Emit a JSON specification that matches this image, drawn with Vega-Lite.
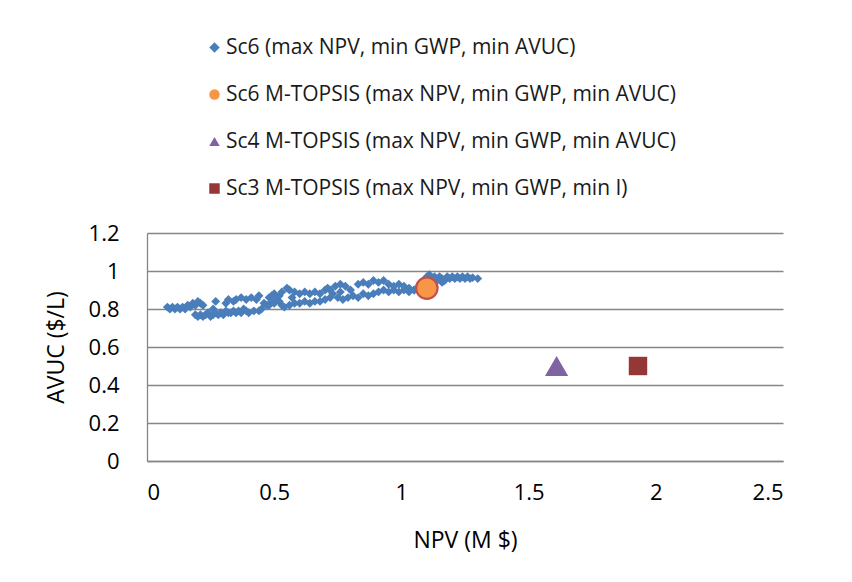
{
  "$schema": "https://vega.github.io/schema/vega-lite/v6.json",
  "width": 636,
  "height": 228,
  "autosize": {"type": "none"},
  "padding": {"left": 147, "top": 233, "right": 69, "bottom": 121},
  "background": "white",
  "config": {
    "font": "Open Sans",
    "view": {"stroke": null},
    "axis": {
      "labelFont": "Open Sans", "titleFont": "Open Sans", "labelFontSize": 22, "titleFontSize": 23,
      "labelColor": "#000000", "titleColor": "#000000", "titleFontWeight": "normal",
      "gridColor": "#868686", "gridWidth": 1.3, "domainColor": "#868686", "domainWidth": 1.3,
      "ticks": false, "labelOverlap": false
    },
    "legend": {"labelFont": "Open Sans", "labelFontSize": 21, "labelColor": "#1a1a1a", "labelLimit": 0}
  },
  "datasets": {
    "pts": [
      {"npv": 0.08, "avuc": 0.81, "series": "Sc6 (max NPV, min GWP, min AVUC)"},
      {"npv": 0.09, "avuc": 0.80, "series": "Sc6 (max NPV, min GWP, min AVUC)"},
      {"npv": 0.10, "avuc": 0.81, "series": "Sc6 (max NPV, min GWP, min AVUC)"},
      {"npv": 0.11, "avuc": 0.80, "series": "Sc6 (max NPV, min GWP, min AVUC)"},
      {"npv": 0.12, "avuc": 0.81, "series": "Sc6 (max NPV, min GWP, min AVUC)"},
      {"npv": 0.13, "avuc": 0.80, "series": "Sc6 (max NPV, min GWP, min AVUC)"},
      {"npv": 0.14, "avuc": 0.81, "series": "Sc6 (max NPV, min GWP, min AVUC)"},
      {"npv": 0.15, "avuc": 0.80, "series": "Sc6 (max NPV, min GWP, min AVUC)"},
      {"npv": 0.16, "avuc": 0.82, "series": "Sc6 (max NPV, min GWP, min AVUC)"},
      {"npv": 0.17, "avuc": 0.81, "series": "Sc6 (max NPV, min GWP, min AVUC)"},
      {"npv": 0.18, "avuc": 0.83, "series": "Sc6 (max NPV, min GWP, min AVUC)"},
      {"npv": 0.19, "avuc": 0.82, "series": "Sc6 (max NPV, min GWP, min AVUC)"},
      {"npv": 0.20, "avuc": 0.84, "series": "Sc6 (max NPV, min GWP, min AVUC)"},
      {"npv": 0.21, "avuc": 0.83, "series": "Sc6 (max NPV, min GWP, min AVUC)"},
      {"npv": 0.22, "avuc": 0.82, "series": "Sc6 (max NPV, min GWP, min AVUC)"},
      {"npv": 0.27, "avuc": 0.84, "series": "Sc6 (max NPV, min GWP, min AVUC)"},
      {"npv": 0.31, "avuc": 0.83, "series": "Sc6 (max NPV, min GWP, min AVUC)"},
      {"npv": 0.32, "avuc": 0.85, "series": "Sc6 (max NPV, min GWP, min AVUC)"},
      {"npv": 0.34, "avuc": 0.84, "series": "Sc6 (max NPV, min GWP, min AVUC)"},
      {"npv": 0.35, "avuc": 0.85, "series": "Sc6 (max NPV, min GWP, min AVUC)"},
      {"npv": 0.37, "avuc": 0.86, "series": "Sc6 (max NPV, min GWP, min AVUC)"},
      {"npv": 0.39, "avuc": 0.85, "series": "Sc6 (max NPV, min GWP, min AVUC)"},
      {"npv": 0.41, "avuc": 0.86, "series": "Sc6 (max NPV, min GWP, min AVUC)"},
      {"npv": 0.43, "avuc": 0.85, "series": "Sc6 (max NPV, min GWP, min AVUC)"},
      {"npv": 0.44, "avuc": 0.87, "series": "Sc6 (max NPV, min GWP, min AVUC)"},
      {"npv": 0.48, "avuc": 0.86, "series": "Sc6 (max NPV, min GWP, min AVUC)"},
      {"npv": 0.49, "avuc": 0.87, "series": "Sc6 (max NPV, min GWP, min AVUC)"},
      {"npv": 0.50, "avuc": 0.88, "series": "Sc6 (max NPV, min GWP, min AVUC)"},
      {"npv": 0.52, "avuc": 0.87, "series": "Sc6 (max NPV, min GWP, min AVUC)"},
      {"npv": 0.53, "avuc": 0.89, "series": "Sc6 (max NPV, min GWP, min AVUC)"},
      {"npv": 0.55, "avuc": 0.91, "series": "Sc6 (max NPV, min GWP, min AVUC)"},
      {"npv": 0.56, "avuc": 0.90, "series": "Sc6 (max NPV, min GWP, min AVUC)"},
      {"npv": 0.58, "avuc": 0.89, "series": "Sc6 (max NPV, min GWP, min AVUC)"},
      {"npv": 0.60, "avuc": 0.88, "series": "Sc6 (max NPV, min GWP, min AVUC)"},
      {"npv": 0.62, "avuc": 0.89, "series": "Sc6 (max NPV, min GWP, min AVUC)"},
      {"npv": 0.64, "avuc": 0.88, "series": "Sc6 (max NPV, min GWP, min AVUC)"},
      {"npv": 0.66, "avuc": 0.89, "series": "Sc6 (max NPV, min GWP, min AVUC)"},
      {"npv": 0.68, "avuc": 0.88, "series": "Sc6 (max NPV, min GWP, min AVUC)"},
      {"npv": 0.70, "avuc": 0.90, "series": "Sc6 (max NPV, min GWP, min AVUC)"},
      {"npv": 0.71, "avuc": 0.91, "series": "Sc6 (max NPV, min GWP, min AVUC)"},
      {"npv": 0.72, "avuc": 0.90, "series": "Sc6 (max NPV, min GWP, min AVUC)"},
      {"npv": 0.74, "avuc": 0.92, "series": "Sc6 (max NPV, min GWP, min AVUC)"},
      {"npv": 0.76, "avuc": 0.93, "series": "Sc6 (max NPV, min GWP, min AVUC)"},
      {"npv": 0.78, "avuc": 0.92, "series": "Sc6 (max NPV, min GWP, min AVUC)"},
      {"npv": 0.80, "avuc": 0.90, "series": "Sc6 (max NPV, min GWP, min AVUC)"},
      {"npv": 0.83, "avuc": 0.93, "series": "Sc6 (max NPV, min GWP, min AVUC)"},
      {"npv": 0.85, "avuc": 0.94, "series": "Sc6 (max NPV, min GWP, min AVUC)"},
      {"npv": 0.87, "avuc": 0.93, "series": "Sc6 (max NPV, min GWP, min AVUC)"},
      {"npv": 0.89, "avuc": 0.95, "series": "Sc6 (max NPV, min GWP, min AVUC)"},
      {"npv": 0.91, "avuc": 0.94, "series": "Sc6 (max NPV, min GWP, min AVUC)"},
      {"npv": 0.93, "avuc": 0.95, "series": "Sc6 (max NPV, min GWP, min AVUC)"},
      {"npv": 0.95, "avuc": 0.93, "series": "Sc6 (max NPV, min GWP, min AVUC)"},
      {"npv": 0.97, "avuc": 0.92, "series": "Sc6 (max NPV, min GWP, min AVUC)"},
      {"npv": 0.99, "avuc": 0.93, "series": "Sc6 (max NPV, min GWP, min AVUC)"},
      {"npv": 1.01, "avuc": 0.92, "series": "Sc6 (max NPV, min GWP, min AVUC)"},
      {"npv": 1.03, "avuc": 0.91, "series": "Sc6 (max NPV, min GWP, min AVUC)"},
      {"npv": 1.05, "avuc": 0.90, "series": "Sc6 (max NPV, min GWP, min AVUC)"},
      {"npv": 1.07, "avuc": 0.92, "series": "Sc6 (max NPV, min GWP, min AVUC)"},
      {"npv": 1.09, "avuc": 0.93, "series": "Sc6 (max NPV, min GWP, min AVUC)"},
      {"npv": 1.10, "avuc": 0.97, "series": "Sc6 (max NPV, min GWP, min AVUC)"},
      {"npv": 1.11, "avuc": 0.98, "series": "Sc6 (max NPV, min GWP, min AVUC)"},
      {"npv": 1.12, "avuc": 0.96, "series": "Sc6 (max NPV, min GWP, min AVUC)"},
      {"npv": 1.13, "avuc": 0.97, "series": "Sc6 (max NPV, min GWP, min AVUC)"},
      {"npv": 1.14, "avuc": 0.96, "series": "Sc6 (max NPV, min GWP, min AVUC)"},
      {"npv": 1.14, "avuc": 0.95, "series": "Sc6 (max NPV, min GWP, min AVUC)"},
      {"npv": 1.15, "avuc": 0.97, "series": "Sc6 (max NPV, min GWP, min AVUC)"},
      {"npv": 1.16, "avuc": 0.96, "series": "Sc6 (max NPV, min GWP, min AVUC)"},
      {"npv": 1.16, "avuc": 0.94, "series": "Sc6 (max NPV, min GWP, min AVUC)"},
      {"npv": 1.17, "avuc": 0.95, "series": "Sc6 (max NPV, min GWP, min AVUC)"},
      {"npv": 1.18, "avuc": 0.97, "series": "Sc6 (max NPV, min GWP, min AVUC)"},
      {"npv": 1.19, "avuc": 0.96, "series": "Sc6 (max NPV, min GWP, min AVUC)"},
      {"npv": 1.20, "avuc": 0.97, "series": "Sc6 (max NPV, min GWP, min AVUC)"},
      {"npv": 1.21, "avuc": 0.96, "series": "Sc6 (max NPV, min GWP, min AVUC)"},
      {"npv": 1.22, "avuc": 0.97, "series": "Sc6 (max NPV, min GWP, min AVUC)"},
      {"npv": 1.23, "avuc": 0.96, "series": "Sc6 (max NPV, min GWP, min AVUC)"},
      {"npv": 1.24, "avuc": 0.97, "series": "Sc6 (max NPV, min GWP, min AVUC)"},
      {"npv": 1.25, "avuc": 0.96, "series": "Sc6 (max NPV, min GWP, min AVUC)"},
      {"npv": 1.26, "avuc": 0.97, "series": "Sc6 (max NPV, min GWP, min AVUC)"},
      {"npv": 1.27, "avuc": 0.96, "series": "Sc6 (max NPV, min GWP, min AVUC)"},
      {"npv": 1.28, "avuc": 0.965, "series": "Sc6 (max NPV, min GWP, min AVUC)"},
      {"npv": 1.30, "avuc": 0.96, "series": "Sc6 (max NPV, min GWP, min AVUC)"},
      {"npv": 0.19, "avuc": 0.77, "series": "Sc6 (max NPV, min GWP, min AVUC)"},
      {"npv": 0.20, "avuc": 0.76, "series": "Sc6 (max NPV, min GWP, min AVUC)"},
      {"npv": 0.21, "avuc": 0.77, "series": "Sc6 (max NPV, min GWP, min AVUC)"},
      {"npv": 0.22, "avuc": 0.76, "series": "Sc6 (max NPV, min GWP, min AVUC)"},
      {"npv": 0.23, "avuc": 0.77, "series": "Sc6 (max NPV, min GWP, min AVUC)"},
      {"npv": 0.24, "avuc": 0.78, "series": "Sc6 (max NPV, min GWP, min AVUC)"},
      {"npv": 0.25, "avuc": 0.76, "series": "Sc6 (max NPV, min GWP, min AVUC)"},
      {"npv": 0.26, "avuc": 0.77, "series": "Sc6 (max NPV, min GWP, min AVUC)"},
      {"npv": 0.26, "avuc": 0.80, "series": "Sc6 (max NPV, min GWP, min AVUC)"},
      {"npv": 0.27, "avuc": 0.78, "series": "Sc6 (max NPV, min GWP, min AVUC)"},
      {"npv": 0.28, "avuc": 0.77, "series": "Sc6 (max NPV, min GWP, min AVUC)"},
      {"npv": 0.29, "avuc": 0.78, "series": "Sc6 (max NPV, min GWP, min AVUC)"},
      {"npv": 0.30, "avuc": 0.77, "series": "Sc6 (max NPV, min GWP, min AVUC)"},
      {"npv": 0.31, "avuc": 0.79, "series": "Sc6 (max NPV, min GWP, min AVUC)"},
      {"npv": 0.32, "avuc": 0.78, "series": "Sc6 (max NPV, min GWP, min AVUC)"},
      {"npv": 0.33, "avuc": 0.78, "series": "Sc6 (max NPV, min GWP, min AVUC)"},
      {"npv": 0.34, "avuc": 0.79, "series": "Sc6 (max NPV, min GWP, min AVUC)"},
      {"npv": 0.35, "avuc": 0.78, "series": "Sc6 (max NPV, min GWP, min AVUC)"},
      {"npv": 0.36, "avuc": 0.79, "series": "Sc6 (max NPV, min GWP, min AVUC)"},
      {"npv": 0.37, "avuc": 0.78, "series": "Sc6 (max NPV, min GWP, min AVUC)"},
      {"npv": 0.38, "avuc": 0.80, "series": "Sc6 (max NPV, min GWP, min AVUC)"},
      {"npv": 0.39, "avuc": 0.79, "series": "Sc6 (max NPV, min GWP, min AVUC)"},
      {"npv": 0.40, "avuc": 0.78, "series": "Sc6 (max NPV, min GWP, min AVUC)"},
      {"npv": 0.42, "avuc": 0.79, "series": "Sc6 (max NPV, min GWP, min AVUC)"},
      {"npv": 0.44, "avuc": 0.79, "series": "Sc6 (max NPV, min GWP, min AVUC)"},
      {"npv": 0.45, "avuc": 0.80, "series": "Sc6 (max NPV, min GWP, min AVUC)"},
      {"npv": 0.46, "avuc": 0.83, "series": "Sc6 (max NPV, min GWP, min AVUC)"},
      {"npv": 0.47, "avuc": 0.82, "series": "Sc6 (max NPV, min GWP, min AVUC)"},
      {"npv": 0.48, "avuc": 0.82, "series": "Sc6 (max NPV, min GWP, min AVUC)"},
      {"npv": 0.49, "avuc": 0.84, "series": "Sc6 (max NPV, min GWP, min AVUC)"},
      {"npv": 0.50, "avuc": 0.83, "series": "Sc6 (max NPV, min GWP, min AVUC)"},
      {"npv": 0.51, "avuc": 0.85, "series": "Sc6 (max NPV, min GWP, min AVUC)"},
      {"npv": 0.52, "avuc": 0.84, "series": "Sc6 (max NPV, min GWP, min AVUC)"},
      {"npv": 0.53, "avuc": 0.82, "series": "Sc6 (max NPV, min GWP, min AVUC)"},
      {"npv": 0.54, "avuc": 0.81, "series": "Sc6 (max NPV, min GWP, min AVUC)"},
      {"npv": 0.56, "avuc": 0.82, "series": "Sc6 (max NPV, min GWP, min AVUC)"},
      {"npv": 0.57, "avuc": 0.86, "series": "Sc6 (max NPV, min GWP, min AVUC)"},
      {"npv": 0.58, "avuc": 0.83, "series": "Sc6 (max NPV, min GWP, min AVUC)"},
      {"npv": 0.60, "avuc": 0.83, "series": "Sc6 (max NPV, min GWP, min AVUC)"},
      {"npv": 0.62, "avuc": 0.84, "series": "Sc6 (max NPV, min GWP, min AVUC)"},
      {"npv": 0.64, "avuc": 0.83, "series": "Sc6 (max NPV, min GWP, min AVUC)"},
      {"npv": 0.66, "avuc": 0.84, "series": "Sc6 (max NPV, min GWP, min AVUC)"},
      {"npv": 0.68, "avuc": 0.84, "series": "Sc6 (max NPV, min GWP, min AVUC)"},
      {"npv": 0.70, "avuc": 0.85, "series": "Sc6 (max NPV, min GWP, min AVUC)"},
      {"npv": 0.72, "avuc": 0.86, "series": "Sc6 (max NPV, min GWP, min AVUC)"},
      {"npv": 0.73, "avuc": 0.88, "series": "Sc6 (max NPV, min GWP, min AVUC)"},
      {"npv": 0.75, "avuc": 0.86, "series": "Sc6 (max NPV, min GWP, min AVUC)"},
      {"npv": 0.76, "avuc": 0.89, "series": "Sc6 (max NPV, min GWP, min AVUC)"},
      {"npv": 0.77, "avuc": 0.85, "series": "Sc6 (max NPV, min GWP, min AVUC)"},
      {"npv": 0.79, "avuc": 0.86, "series": "Sc6 (max NPV, min GWP, min AVUC)"},
      {"npv": 0.81, "avuc": 0.87, "series": "Sc6 (max NPV, min GWP, min AVUC)"},
      {"npv": 0.83, "avuc": 0.86, "series": "Sc6 (max NPV, min GWP, min AVUC)"},
      {"npv": 0.85, "avuc": 0.88, "series": "Sc6 (max NPV, min GWP, min AVUC)"},
      {"npv": 0.87, "avuc": 0.87, "series": "Sc6 (max NPV, min GWP, min AVUC)"},
      {"npv": 0.89, "avuc": 0.88, "series": "Sc6 (max NPV, min GWP, min AVUC)"},
      {"npv": 0.91, "avuc": 0.89, "series": "Sc6 (max NPV, min GWP, min AVUC)"},
      {"npv": 0.93, "avuc": 0.90, "series": "Sc6 (max NPV, min GWP, min AVUC)"},
      {"npv": 0.95, "avuc": 0.89, "series": "Sc6 (max NPV, min GWP, min AVUC)"},
      {"npv": 0.97, "avuc": 0.90, "series": "Sc6 (max NPV, min GWP, min AVUC)"},
      {"npv": 0.99, "avuc": 0.89, "series": "Sc6 (max NPV, min GWP, min AVUC)"},
      {"npv": 1.01, "avuc": 0.90, "series": "Sc6 (max NPV, min GWP, min AVUC)"},
      {"npv": 1.03, "avuc": 0.89, "series": "Sc6 (max NPV, min GWP, min AVUC)"},
      {"npv": 1.05, "avuc": 0.90, "series": "Sc6 (max NPV, min GWP, min AVUC)"},
      {"npv": 1.10, "avuc": 0.91, "series": "Sc6 M-TOPSIS (max NPV, min GWP, min AVUC)"},
      {"npv": 1.61, "avuc": 0.50, "series": "Sc4 M-TOPSIS (max NPV, min GWP, min AVUC)"},
      {"npv": 1.93, "avuc": 0.50, "series": "Sc3 M-TOPSIS (max NPV, min GWP, min I)"}
    ]
  },
  "data": {"name": "pts"},
  "encoding": {
    "x": {"field": "npv", "type": "quantitative", "title": "NPV (M $)",
          "scale": {"domain": [0, 2.5], "nice": false},
          "axis": {"values": [0, 0.5, 1, 1.5, 2, 2.5], "grid": false, "labelPadding": 21, "titlePadding": 26, "format": "~g"}},
    "y": {"field": "avuc", "type": "quantitative", "title": "AVUC ($/L)",
          "scale": {"domain": [0, 1.2], "nice": false},
          "axis": {"values": [0, 0.2, 0.4, 0.6, 0.8, 1, 1.2], "labelPadding": 28, "titlePadding": 20, "format": "~g"}},
    "color": {"field": "series", "type": "nominal",
              "scale": {"domain": ["Sc6 (max NPV, min GWP, min AVUC)", "Sc6 M-TOPSIS (max NPV, min GWP, min AVUC)", "Sc4 M-TOPSIS (max NPV, min GWP, min AVUC)", "Sc3 M-TOPSIS (max NPV, min GWP, min I)"],
                        "range": ["#4A7EBB", "#F79646", "#8064A2", "#953735"]},
              "legend": {"title": null, "orient": "none", "legendX": 57, "legendY": -196, "rowPadding": 25, "symbolSize": 110, "labelOffset": 1}},
    "shape": {"field": "series", "type": "nominal",
              "scale": {"domain": ["Sc6 (max NPV, min GWP, min AVUC)", "Sc6 M-TOPSIS (max NPV, min GWP, min AVUC)", "Sc4 M-TOPSIS (max NPV, min GWP, min AVUC)", "Sc3 M-TOPSIS (max NPV, min GWP, min I)"],
                        "range": ["diamond", "circle", "triangle-up", "square"]}}
  },
  "layer": [
    {
      "transform": [{"filter": "datum.series == 'Sc6 (max NPV, min GWP, min AVUC)'"}],
      "mark": {"type": "point", "filled": true, "opacity": 1, "size": 80}
    },
    {
      "transform": [{"filter": "datum.series == 'Sc6 M-TOPSIS (max NPV, min GWP, min AVUC)'"}],
      "mark": {"type": "point", "filled": true, "opacity": 1, "size": 460, "stroke": "#C0504D", "strokeWidth": 2.2}
    },
    {
      "transform": [{"filter": "datum.series == 'Sc4 M-TOPSIS (max NPV, min GWP, min AVUC)'"}],
      "mark": {"type": "point", "filled": true, "opacity": 1, "size": 540}
    },
    {
      "transform": [{"filter": "datum.series == 'Sc3 M-TOPSIS (max NPV, min GWP, min I)'"}],
      "mark": {"type": "point", "filled": true, "opacity": 1, "size": 340}
    }
  ]
}
